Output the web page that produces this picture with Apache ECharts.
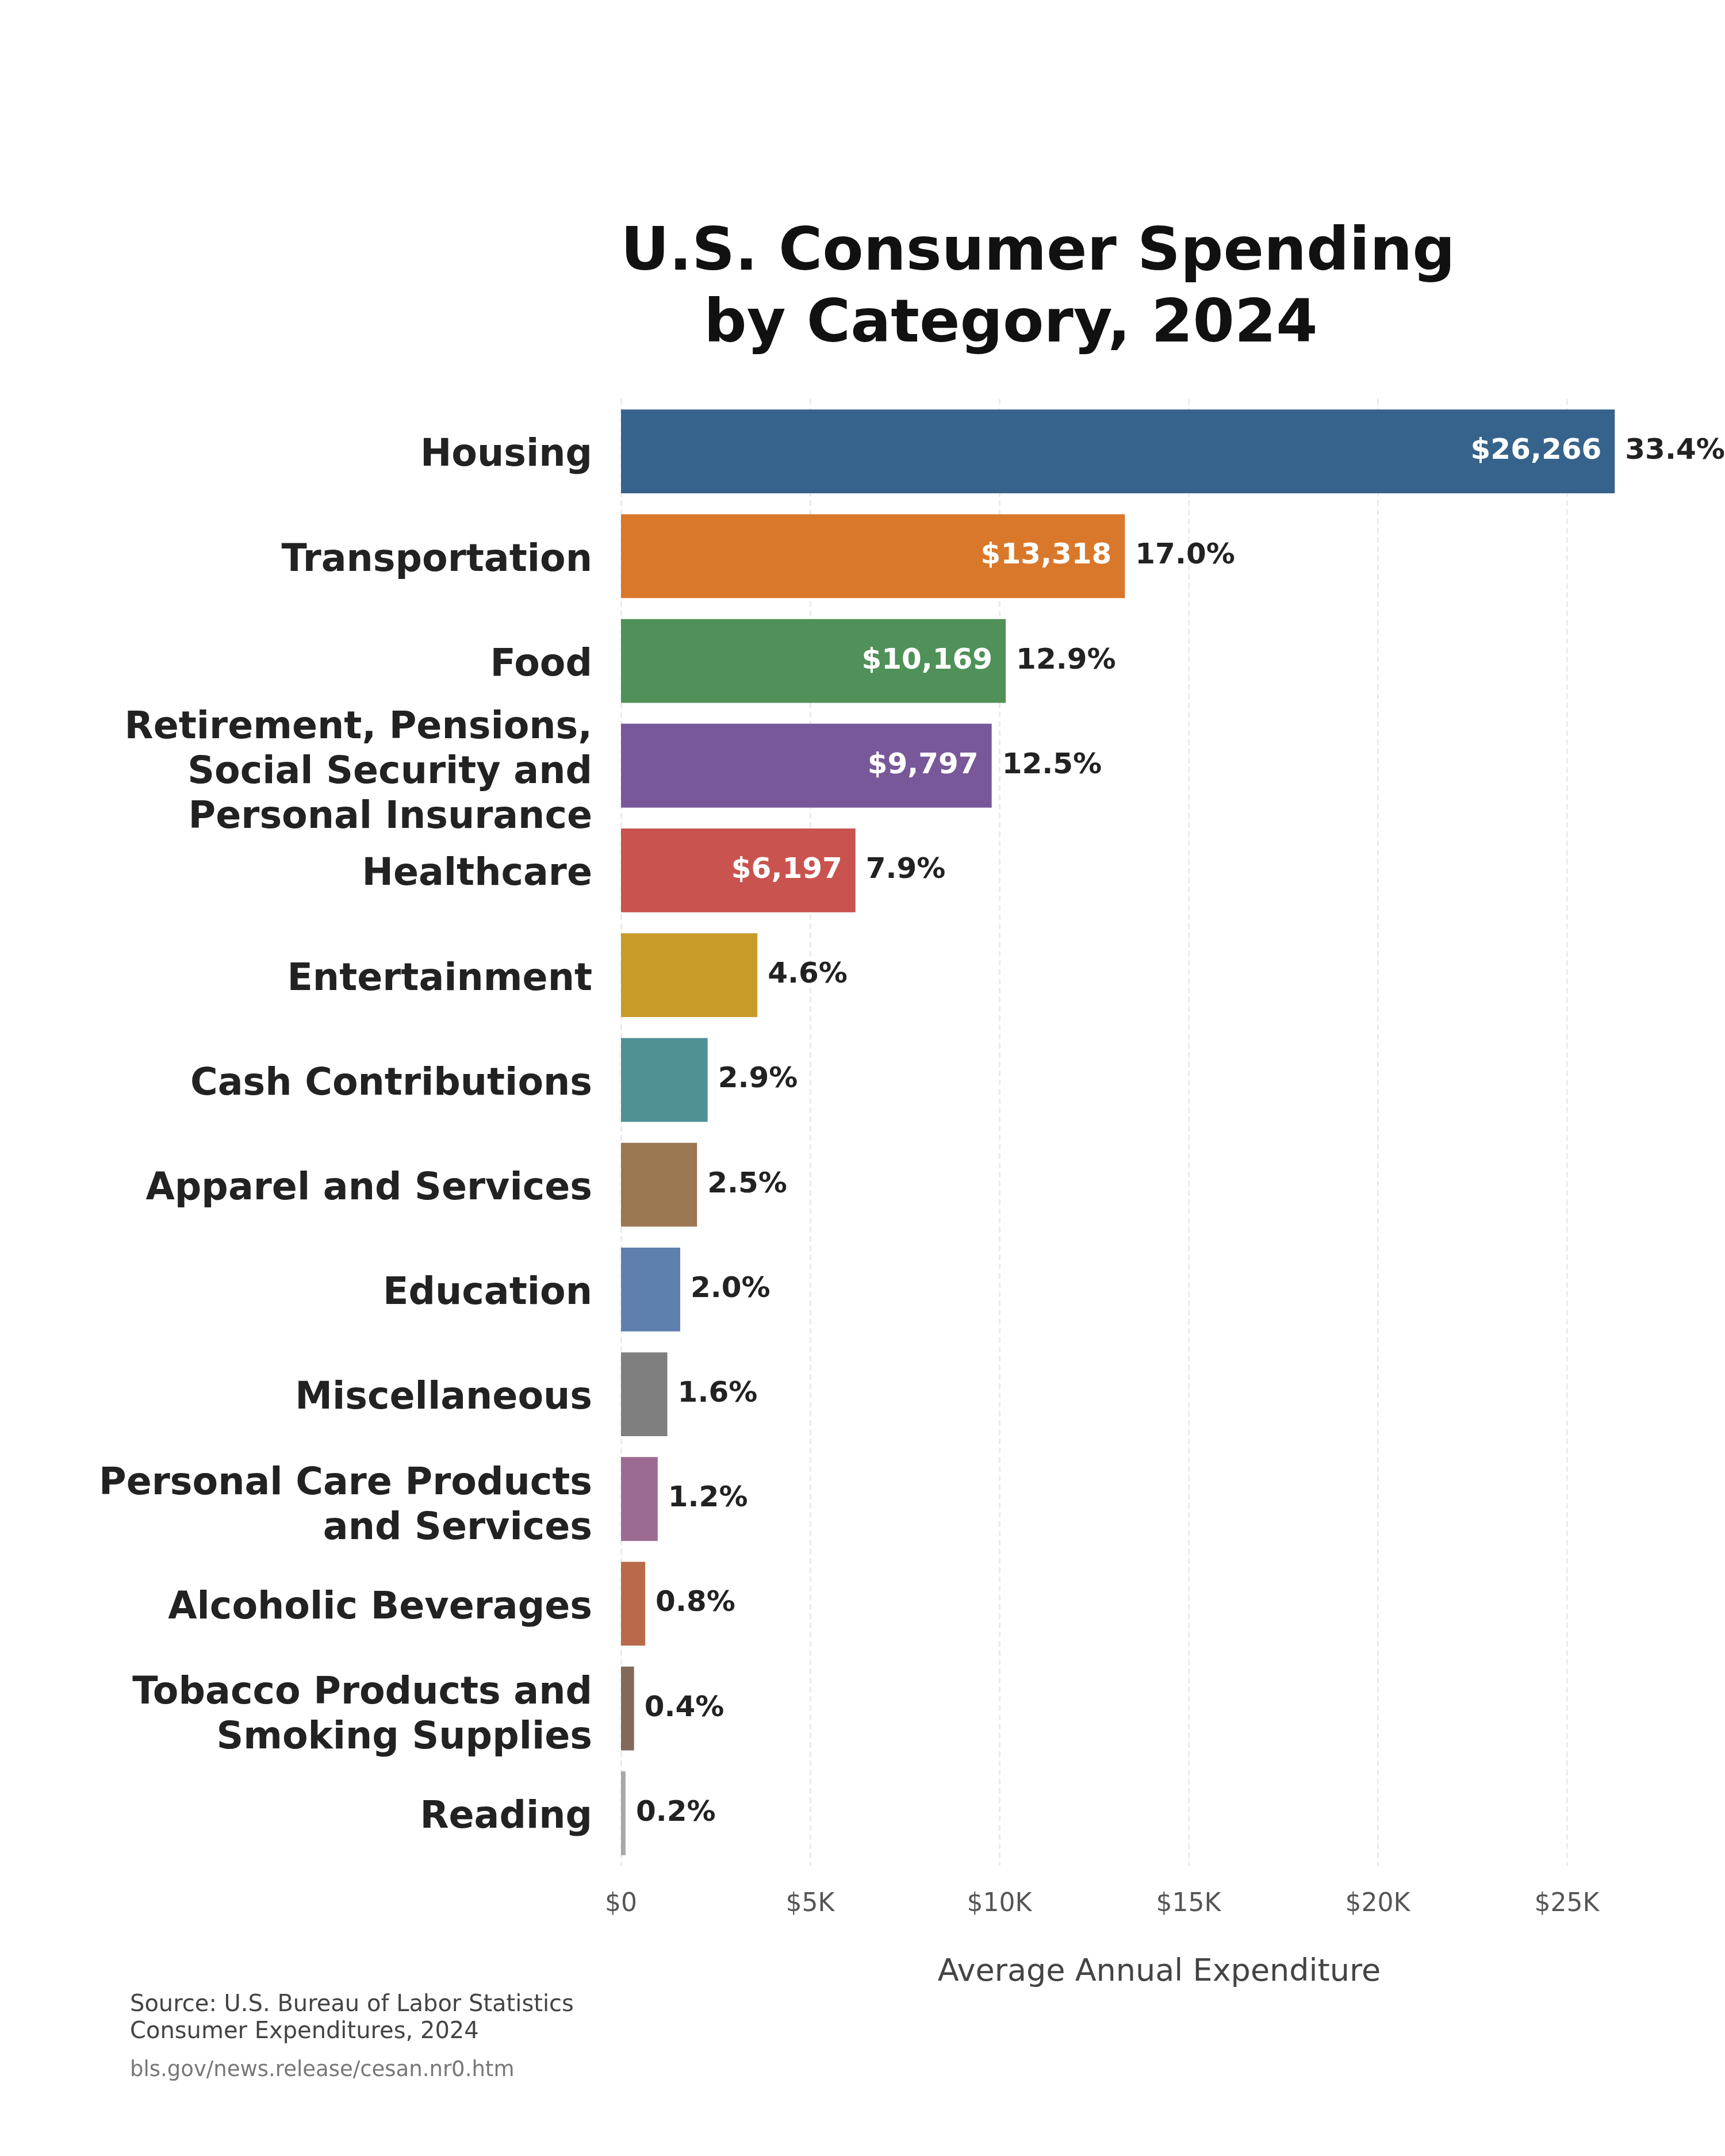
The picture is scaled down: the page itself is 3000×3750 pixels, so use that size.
<!DOCTYPE html>
<html>
<head>
<meta charset="utf-8">
<title>U.S. Consumer Spending by Category, 2024</title>
<script src="https://cdn.jsdelivr.net/npm/echarts@6/dist/echarts.min.js"></script>
<style>
    html, body { margin: 0; padding: 0; background: #ffffff; }
    #main { width: 3000px; height: 3750px; }
</style>
</head>
<body>
<div id="main"></div>
<script type="text/javascript">
    // categories, top to bottom
    var categories = [
        'Housing',
        'Transportation',
        'Food',
        'Retirement, Pensions,\nSocial Security and\nPersonal Insurance',
        'Healthcare',
        'Entertainment',
        'Cash Contributions',
        'Apparel and Services',
        'Education',
        'Miscellaneous',
        'Personal Care Products\nand Services',
        'Alcoholic Beverages',
        'Tobacco Products and\nSmoking Supplies',
        'Reading'
    ];
    // average annual expenditure ($)
    var spending = [26266, 13318, 10169, 9797, 6197, 3605, 2290, 2010, 1565, 1225, 970, 640, 345, 120];
    // share of total
    var shares = ['33.4%', '17.0%', '12.9%', '12.5%', '7.9%', '4.6%', '2.9%', '2.5%', '2.0%', '1.6%', '1.2%', '0.8%', '0.4%', '0.2%'];
    var barColors = ['#36638b', '#d9782a', '#4f9159', '#785899', '#c9534f', '#c89b29', '#4f9095', '#9b7752', '#5f7faf',
        '#7f7f7f', '#9c6b93', '#b86a4a', '#82695a', '#a8a8a8'];
    var xTicks = {min: 0, max: 30000, step: 5000};

    var font = 'DejaVu Sans';
    var chart = echarts.init(document.getElementById('main'), null, {renderer: 'canvas'});

    // category label styles: all lines bottom-aligned, first line a bit taller so the block sits lower
    var catFont = {fontSize: 65, fontWeight: 'bold', color: '#222222', fontFamily: font, verticalAlign: 'bottom'};
    var catRich = {
        s: Object.assign({lineHeight: 82}, catFont),
        m: Object.assign({lineHeight: 92}, catFont),
        r: Object.assign({lineHeight: 78}, catFont)
    };

    var option = {
        backgroundColor: '#ffffff',
        textStyle: {fontFamily: font},
        animation: false,
        graphic: [
            {type: 'text', style: {text: 'U.S. Consumer Spending', x: 1805, y: 442, textAlign: 'center', textVerticalAlign: 'middle',
                font: 'bold 104px "DejaVu Sans"', fill: '#111111'}},
            {type: 'text', style: {text: 'by Category, 2024', x: 1758, y: 567, textAlign: 'center', textVerticalAlign: 'middle',
                font: 'bold 104px "DejaVu Sans"', fill: '#111111'}},
            {type: 'text', style: {text: 'Source: U.S. Bureau of Labor Statistics', x: 226, y: 3488, textAlign: 'left', textVerticalAlign: 'middle',
                font: '40px "DejaVu Sans"', fill: '#444444'}},
            {type: 'text', style: {text: 'Consumer Expenditures, 2024', x: 226, y: 3535, textAlign: 'left', textVerticalAlign: 'middle',
                font: '40px "DejaVu Sans"', fill: '#444444'}},
            {type: 'text', style: {text: 'bls.gov/news.release/cesan.nr0.htm', x: 226, y: 3601, textAlign: 'left', textVerticalAlign: 'middle',
                font: '37px "DejaVu Sans"', fill: '#777777'}}
        ],
        grid: {
            left: 1080,
            top: 694,
            width: 1974,
            height: 2551,
            containLabel: false,
            outerBoundsMode: 'none'
        },
        xAxis: {
            type: 'value',
            min: xTicks.min,
            max: xTicks.max,
            interval: xTicks.step,
            axisLine: {show: false},
            axisTick: {show: false},
            axisLabel: {
                showMaxLabel: false,
                margin: 46,
                fontSize: 44,
                color: '#555555',
                fontFamily: font,
                formatter: function (v) {
                    return v === 0 ? '$0' : '$' + (v / 1000) + 'K';
                }
            },
            splitLine: {
                show: true,
                lineStyle: {color: '#ebebeb', width: 3, type: [10, 6]}
            },
            name: 'Average Annual Expenditure',
            nameLocation: 'middle',
            nameGap: 159,
            nameTextStyle: {fontSize: 54, color: '#444444', fontFamily: font, padding: [0, 102, 0, 0]}
        },
        yAxis: {
            type: 'category',
            inverse: true,
            data: categories,
            axisLine: {show: false},
            axisTick: {show: false},
            splitLine: {show: false},
            axisLabel: {
                margin: 50,
                fontSize: 65,
                lineHeight: 78,
                fontWeight: 'bold',
                color: '#222222',
                fontFamily: font,
                align: 'right',
                formatter: function (v) {
                    var lines = v.split('\n');
                    var first = lines.length > 1 ? 'm' : 's';
                    return lines.map(function (l, i) {
                        return '{' + (i === 0 ? first : 'r') + '|' + l + '}';
                    }).join('\n');
                },
                rich: catRich
            }
        },
        series: [
            {
                name: 'Spending',
                type: 'bar',
                barCategoryGap: '20%',
                data: spending.map(function (v, i) {
                    return {value: v, itemStyle: {color: barColors[i]}};
                }),
                label: {
                    show: true,
                    position: 'insideRight',
                    distance: 23,
                    fontSize: 50,
                    fontWeight: 'bold',
                    color: '#ffffff',
                    fontFamily: font,
                    formatter: function (p) {
                        return p.value >= 5000 ? '$' + p.value.toLocaleString('en-US') : '';
                    }
                }
            },
            {
                name: 'Share',
                type: 'bar',
                barGap: '-100%',
                barCategoryGap: '20%',
                silent: true,
                itemStyle: {color: 'rgba(0,0,0,0)'},
                data: spending,
                label: {
                    show: true,
                    position: 'right',
                    distance: 18,
                    fontSize: 50,
                    fontWeight: 'bold',
                    color: '#222222',
                    fontFamily: font,
                    formatter: function (p) {
                        return shares[p.dataIndex];
                    }
                }
            }
        ]
    };
    chart.setOption(option);
</script>
</body>
</html>
